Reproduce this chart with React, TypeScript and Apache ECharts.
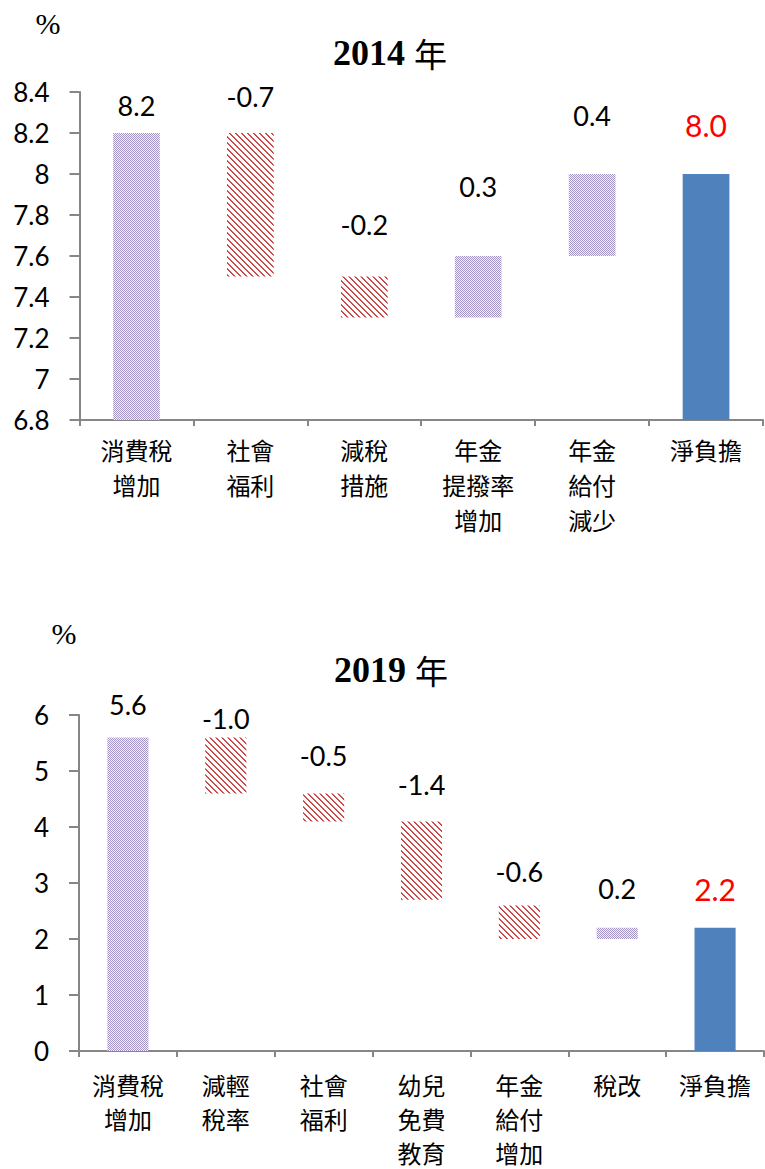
import React, { useEffect, useRef } from 'react';
import * as echarts from 'echarts';

// ---- Data: 2014 ----
const categories2014 = ['消費稅\n增加', '社會\n福利', '減稅\n措施', '年金\n提撥率\n增加', '年金\n給付\n減少', '淨負擔'];
const values2014 = [8.2, -0.7, -0.2, 0.3, 0.4, 8.0];
const barLow2014 = [0, 7.5, 7.3, 7.3, 7.6, 0];
const barHigh2014 = [8.2, 8.2, 7.5, 7.6, 8.0, 8.0];
const yAxis2014 = [6.8, 8.4, 0.2]; // min, max, interval

// ---- Data: 2019 ----
const categories2019 = ['消費稅\n增加', '減輕\n稅率', '社會\n福利', '幼兒\n免費\n教育', '年金\n給付\n增加', '稅改', '淨負擔'];
const values2019 = [5.6, -1.0, -0.5, -1.4, -0.6, 0.2, 2.2];
const barLow2019 = [0, 4.6, 4.1, 2.7, 2.0, 2.0, 0];
const barHigh2019 = [5.6, 5.6, 4.6, 4.1, 2.6, 2.2, 2.2];
const yAxis2019 = [0, 6, 1];

// label gap (px) between bar top and label centre — layout only
const labelGap2014 = [28, 37, 52, 70, 59, 49];
const labelGap2019 = [33, 19, 38, 37, 34, 39, 39];

const NUM_FONT = 'Lato';
const CJK_FONT = '"Noto Sans CJK TC"';
const AXIS_GRAY = '#868686';

function makeChecker(): HTMLCanvasElement {
  const c = document.createElement('canvas');
  c.width = 2; c.height = 2;
  const ctx = c.getContext('2d')!;
  ctx.fillStyle = '#f4f1f9';
  ctx.fillRect(0, 0, 2, 2);
  ctx.fillStyle = '#a495c9';
  ctx.fillRect(0, 0, 1, 1);
  ctx.fillRect(1, 1, 1, 1);
  return c;
}

function makeStripes(): HTMLCanvasElement {
  const n = 6;
  const c = document.createElement('canvas');
  c.width = n; c.height = n;
  const ctx = c.getContext('2d')!;
  ctx.fillStyle = '#ffffff';
  ctx.fillRect(0, 0, n, n);
  for (let y = 0; y < n; y++) {
    ctx.fillStyle = '#c23a3a';
    ctx.fillRect(y, y, 1, 1);
    ctx.fillStyle = '#d26464';
    ctx.fillRect((y + 1) % n, y, 1, 1);
  }
  return c;
}

export default function App() {
  const ref = useRef<HTMLDivElement>(null);

  useEffect(() => {
    if (!ref.current) return;
    const chart = echarts.init(ref.current, null, { renderer: 'svg' });
    const checker = makeChecker();
    const stripes = makeStripes();
    const upColor: any = { image: checker, repeat: 'repeat' };
    const downColor: any = { image: stripes, repeat: 'repeat' };
    const totalColor = '#4f81bd';

    const buildVisible = (values: number[], low: number[], high: number[], gaps: number[]) =>
      values.map((v, i) => {
        const isTotal = i === values.length - 1;
        const color = isTotal ? totalColor : v < 0 ? downColor : upColor;
        return {
          value: +(high[i] - low[i]).toFixed(4),
          itemStyle: { color },
          label: {
            show: true,
            position: ['50%', -gaps[i]],
            align: 'center',
            verticalAlign: 'middle',
            formatter: v.toFixed(1),
            color: isTotal ? '#ff0000' : '#000000',
            fontSize: isTotal ? 30 : 27,
            fontFamily: NUM_FONT,
          },
        };
      });

    const xAxisCommon = (cats: string[], gridIndex: number, margin: number, lh: number) => ({
      type: 'category',
      gridIndex,
      data: cats,
      axisLine: { show: true, lineStyle: { color: AXIS_GRAY, width: 2 } },
      axisTick: { show: true, length: 6, lineStyle: { color: AXIS_GRAY, width: 2 } },
      axisLabel: {
        interval: 0,
        color: '#000',
        fontSize: 24,
        fontFamily: CJK_FONT,
        lineHeight: lh,
        margin,
      },
      splitLine: { show: false },
    });

    const yAxisCommon = (range: number[], gridIndex: number) => ({
      type: 'value',
      gridIndex,
      min: range[0],
      max: range[1],
      interval: range[2],
      axisLine: { show: true, lineStyle: { color: AXIS_GRAY, width: 2 } },
      axisTick: { show: true, length: 10, lineStyle: { color: AXIS_GRAY, width: 2 } },
      axisLabel: { color: '#000', fontSize: 26, fontFamily: NUM_FONT, margin: 30 },
      splitLine: { show: false },
    });

    const titleStyle = (year: string) => ({
      text: `{a|${year} }{b|年}`,
      align: 'center', verticalAlign: 'middle',
      rich: {
        a: { fontFamily: '"Liberation Serif"', fontWeight: 'bold', fontSize: 36, fill: '#000' },
        b: { fontFamily: CJK_FONT, fontSize: 33, fill: '#000' },
      },
    });

    const option: any = {
      animation: false,
      backgroundColor: '#ffffff',
      grid: [
        { left: 79.5, right: 2, top: 92, height: 328 },
        { left: 79, right: 1, top: 715, height: 337 },
      ],
      xAxis: [xAxisCommon(categories2014, 0, 12, 35), xAxisCommon(categories2019, 1, 16, 34)],
      yAxis: [yAxisCommon(yAxis2014, 0), yAxisCommon(yAxis2019, 1)],
      graphic: [
        { type: 'text', x: 390, y: 53, style: titleStyle('2014') },
        { type: 'text', x: 391, y: 670, style: titleStyle('2019') },
        {
          type: 'text', x: 48, y: 23,
          style: { text: '%', fontFamily: '"Liberation Serif"', fontSize: 30, fill: '#000', align: 'center', verticalAlign: 'middle' },
        },
        {
          type: 'text', x: 64, y: 633,
          style: { text: '%', fontFamily: '"Liberation Serif"', fontSize: 30, fill: '#000', align: 'center', verticalAlign: 'middle' },
        },
      ],
      series: [
        {
          type: 'bar', stack: 's2014', xAxisIndex: 0, yAxisIndex: 0,
          data: barLow2014, barWidth: '41%', silent: true, clip: true,
          itemStyle: { color: 'rgba(0,0,0,0)' },
        },
        {
          type: 'bar', stack: 's2014', xAxisIndex: 0, yAxisIndex: 0,
          data: buildVisible(values2014, barLow2014, barHigh2014, labelGap2014),
          barWidth: '41%', clip: true,
        },
        {
          type: 'bar', stack: 's2019', xAxisIndex: 1, yAxisIndex: 1,
          data: barLow2019, barWidth: '42%', silent: true, clip: true,
          itemStyle: { color: 'rgba(0,0,0,0)' },
        },
        {
          type: 'bar', stack: 's2019', xAxisIndex: 1, yAxisIndex: 1,
          data: buildVisible(values2019, barLow2019, barHigh2019, labelGap2019),
          barWidth: '42%', clip: true,
        },
      ],
    };

    chart.setOption(option);
    return () => chart.dispose();
  }, []);

  return (
    <>
      <style>{'#chart-root svg image, #chart-root svg pattern image { image-rendering: pixelated; }'}</style>
      <div
        id="chart-root"
        ref={ref}
        style={{ position: 'absolute', left: 0, top: 0, width: 765, height: 1169, background: '#fff' }}
      />
    </>
  );
}
